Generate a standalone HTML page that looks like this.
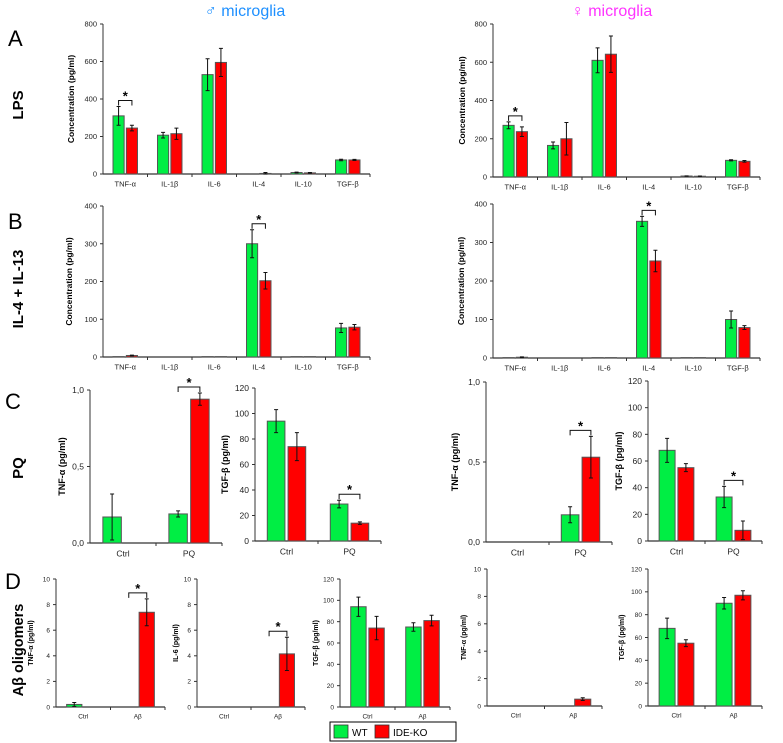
<!DOCTYPE html>
<html><head><meta charset="utf-8"><style>
body{margin:0;background:#fff;}
svg{display:block;font-family:"Liberation Sans",Arial,sans-serif;}
</style></head><body>
<svg id="fig" width="783" height="743" viewBox="0 0 783 743" xmlns="http://www.w3.org/2000/svg">
<text x="245" y="16" font-size="16" fill="#1e90ff" text-anchor="middle">♂ microglia</text>
<text x="612" y="16" font-size="16" fill="#ff33ff" text-anchor="middle">♀ microglia</text>
<text x="8" y="46" font-size="22">A</text>
<text x="8" y="229" font-size="22">B</text>
<text x="5" y="409" font-size="22">C</text>
<text x="5" y="589" font-size="22">D</text>
<text transform="translate(23,105) rotate(-90)" font-size="15" font-weight="bold" text-anchor="middle">LPS</text>
<text transform="translate(23,289) rotate(-90)" font-size="15" font-weight="bold" text-anchor="middle">IL-4 + IL-13</text>
<text transform="translate(23,468) rotate(-90)" font-size="15" font-weight="bold" text-anchor="middle">PQ</text>
<text transform="translate(23,650) rotate(-90)" font-size="14.5" font-weight="bold" text-anchor="middle">Aβ oligomers</text>
<g>
<rect x="330" y="722" width="126" height="19" fill="#fff" stroke="#000" stroke-width="1"/>
<rect x="334" y="725" width="14" height="13" fill="#00ee44" stroke="#333" stroke-width="0.8"/>
<text x="352" y="736" font-size="10">WT</text>
<rect x="375" y="725" width="14" height="13" fill="#ff0000" stroke="#333" stroke-width="0.8"/>
<text x="393" y="736" font-size="10">IDE-KO</text>
</g>
</svg>
<script>
// ---- data arrays ----
const cytokines = ["TNF-α","IL-1β","IL-6","IL-4","IL-10","TGF-β"];
const pqCats = ["Ctrl","PQ"];
const abCats = ["Ctrl","Aβ"];
const aMaleWT = [310,207,530,0,8,75];
const aMaleKO = [245,215,595,3,6,75];
const aMaleWTErr = [50,15,85,0,2,4];
const aMaleKOErr = [15,30,75,5,2,3];
const aFemWT = [270,165,610,0,5,87];
const aFemKO = [237,200,642,0,4,82];
const aFemWTErr = [18,18,65,0,1,3];
const aFemKOErr = [25,85,95,0,1,4];
const bMaleWT = [1,0,1,300,1,77];
const bMaleKO = [4,0,1,202,1,79];
const bMaleWTErr = [0,0,0,37,0,12];
const bMaleKOErr = [1,0,0,22,0,7];
const bFemWT = [1,0,1,355,1,100];
const bFemKO = [2,0,1,252,1,79];
const bFemWTErr = [0,0,0,13,0,22];
const bFemKOErr = [1,0,0,28,0,5];
const cMaleTnfWT = [0.17,0.19];
const cMaleTnfKO = [0,0.94];
const cMaleTnfWTErr = [0.15,0.02];
const cMaleTnfKOErr = [0,0.04];
const cMaleTgfWT = [94,29];
const cMaleTgfKO = [74,14];
const cMaleTgfWTErr = [9,3];
const cMaleTgfKOErr = [11,1];
const cFemTnfWT = [0,0.17];
const cFemTnfKO = [0,0.53];
const cFemTnfWTErr = [0,0.05];
const cFemTnfKOErr = [0,0.13];
const cFemTgfWT = [68,33];
const cFemTgfKO = [55,8];
const cFemTgfWTErr = [9,8];
const cFemTgfKOErr = [3,7];
const dMaleTnfWT = [0.2,0];
const dMaleTnfKO = [0,7.4];
const dMaleTnfWTErr = [0.15,0];
const dMaleTnfKOErr = [0,1.05];
const dMaleIl6WT = [0,0];
const dMaleIl6KO = [0,4.15];
const dMaleIl6WTErr = [0,0];
const dMaleIl6KOErr = [0,1.3];
const dMaleTgfWT = [94,75];
const dMaleTgfKO = [74,81];
const dMaleTgfWTErr = [9,4];
const dMaleTgfKOErr = [11,5];
const dFemTnfWT = [0,0];
const dFemTnfKO = [0,0.5];
const dFemTnfWTErr = [0,0];
const dFemTnfKOErr = [0,0.1];
const dFemTgfWT = [68,90];
const dFemTgfKO = [55,97];
const dFemTgfWTErr = [9,5];
const dFemTgfKOErr = [3,4];
const ticks800 = [0,200,400,600,800];
const ticks400 = [0,100,200,300,400];
const ticks120 = [0,20,40,60,80,100,120];
const ticks10 = [0,2,4,6,8,10];
const ticks1 = [0,0.5,1.0];
const ticks1Labels = ["0,0","0,5","1,0"];

const NS="http://www.w3.org/2000/svg";
const fig=document.getElementById('fig');
function mk(tag,attrs,parent){const e=document.createElementNS(NS,tag);for(const k in attrs)e.setAttribute(k,attrs[k]);parent.appendChild(e);return e;}

function chart(o){
  const g=mk('g',{},fig);
  
  
  const n=o.cats.length, W=(o.x1-o.x0)/n;
  const y=v=>o.y0-(v/o.max)*(o.y0-o.ytop);
  const x=i=>o.x0+W*i;
  const ya=mk('line',{x1:o.x0,y1:o.ytop,x2:o.x0,y2:o.y0,stroke:'#333','stroke-width':1},g);
  
  
  const xa=mk('line',{x1:o.x0,y1:o.y0,x2:o.x1,y2:o.y0,stroke:'#333','stroke-width':1.3},g);
  
  
  o.ticks.forEach((t,i)=>{
    mk('line',{x1:o.x0-3,y1:y(t),x2:o.x0,y2:y(t),stroke:'#333'},g);
    const tl=mk('text',{x:o.x0-6,y:y(t)+o.fs*0.35,'font-size':o.fs,'text-anchor':'end',fill:'#222'},g);
    tl.textContent=o.tickLabels?o.tickLabels[i]:t;
    
    
  });
  for(let i=1;i<=n;i++) mk('line',{x1:x(i),y1:o.y0,x2:x(i),y2:o.y0+3,stroke:'#333'},g);
  const tt=mk('text',{transform:`translate(${o.x0-o.toff},${(o.ytop+o.y0)/2}) rotate(-90)`,'font-size':o.tfs,'font-weight':'bold','text-anchor':'middle'},g);
  tt.textContent=o.title;
  
  
  const bw=W*o.bwf, gap=W*0.05;
  o.cats.forEach((c,i)=>{
    const cx=x(i)+W/2;
    const cl=mk('text',{x:cx,y:o.y0+o.fs+5,'font-size':o.fs,'text-anchor':'middle',fill:'#222'},g);
    cl.textContent=c;
    
    
    [[o.wt,o.wtErr,'#00ee44',cx-gap/2-bw,'bar-wt'],[o.ko,o.koErr,'#ff0000',cx+gap/2,'bar-ide-ko']].forEach(([vals,errs,col,bx,nm])=>{
      const v=vals[i], e=errs[i];
      if(v>0){
        const h=o.y0-y(v);
        const r=mk('rect',{x:bx,y:y(v),width:bw,height:h,fill:col,stroke:'#555','stroke-width':1},g);
        
        
      }
      if(e>0){
        const ex=bx+bw/2;
        const el=mk('path',{d:`M${ex},${y(v+e)}V${y(Math.max(0,v-e))}M${ex-2},${y(v+e)}h4M${ex-2},${y(Math.max(0,v-e))}h4`,stroke:'#111','stroke-width':1,fill:'none'},g);
        
        
      }
    });
    if(o.sig===i){
      const top=Math.min(y(o.wt[i]+o.wtErr[i]),y(o.ko[i]+o.koErr[i]))-6;
      const l=cx-gap/2-bw/2, r2=cx+gap/2+bw/2;
      const br=mk('path',{d:`M${l},${top+5}V${top}H${r2}V${top+5}`,stroke:'#111','stroke-width':1,fill:'none'},g);
      
      
      const st=mk('text',{x:cx,y:top,'font-size':13,'font-weight':'bold','text-anchor':'middle'},g);
      st.textContent='*';
      
      
    }
  });
}
chart({name:'chart-a-male-lps',cats:cytokines,wt:aMaleWT,ko:aMaleKO,wtErr:aMaleWTErr,koErr:aMaleKOErr,x0:103,x1:370,ytop:24,y0:174,max:800,ticks:ticks800,fs:7.5,tfs:8.5,toff:29,title:'Concentration (pg/ml)',bwf:0.25,sig:0});
chart({name:'chart-a-female-lps',cats:cytokines,wt:aFemWT,ko:aFemKO,wtErr:aFemWTErr,koErr:aFemKOErr,x0:493,x1:760,ytop:24,y0:177,max:800,ticks:ticks800,fs:7.5,tfs:8.5,toff:28,title:'Concentration (pg/ml)',bwf:0.25,sig:0});
chart({name:'chart-b-male-il4',cats:cytokines,wt:bMaleWT,ko:bMaleKO,wtErr:bMaleWTErr,koErr:bMaleKOErr,x0:103,x1:370,ytop:206,y0:357,max:400,ticks:ticks400,fs:7.5,tfs:8.5,toff:31,title:'Concentration (pg/ml)',bwf:0.25,sig:3});
chart({name:'chart-b-female-il4',cats:cytokines,wt:bFemWT,ko:bFemKO,wtErr:bFemWTErr,koErr:bFemKOErr,x0:493,x1:760,ytop:204,y0:358,max:400,ticks:ticks400,fs:7.5,tfs:8.5,toff:29,title:'Concentration (pg/ml)',bwf:0.25,sig:3});
chart({name:'chart-c-male-tnf',cats:pqCats,wt:cMaleTnfWT,ko:cMaleTnfKO,wtErr:cMaleTnfWTErr,koErr:cMaleTnfKOErr,x0:90,x1:222,ytop:390,y0:543,max:1,ticks:ticks1,tickLabels:ticks1Labels,fs:8.5,tfs:9,toff:25,title:'TNF-α (pg/ml)',bwf:0.28,sig:1});
chart({name:'chart-c-male-tgf',cats:pqCats,wt:cMaleTgfWT,ko:cMaleTgfKO,wtErr:cMaleTgfWTErr,koErr:cMaleTgfKOErr,x0:255,x1:381,ytop:388,y0:541,max:120,ticks:ticks120,fs:8.5,tfs:9,toff:27,title:'TGF-β (pg/ml)',bwf:0.28,sig:1});
chart({name:'chart-c-female-tnf',cats:pqCats,wt:cFemTnfWT,ko:cFemTnfKO,wtErr:cFemTnfWTErr,koErr:cFemTnfKOErr,x0:486,x1:612,ytop:382,y0:542,max:1,ticks:ticks1,tickLabels:ticks1Labels,fs:8.5,tfs:9,toff:28,title:'TNF-α (pg/ml)',bwf:0.28,sig:1});
chart({name:'chart-c-female-tgf',cats:pqCats,wt:cFemTgfWT,ko:cFemTgfKO,wtErr:cFemTgfWTErr,koErr:cFemTgfKOErr,x0:648,x1:762,ytop:381,y0:541,max:120,ticks:ticks120,fs:8.5,tfs:9,toff:26,title:'TGF-β (pg/ml)',bwf:0.28,sig:1});
chart({name:'chart-d-male-tnf',cats:abCats,wt:dMaleTnfWT,ko:dMaleTnfKO,wtErr:dMaleTnfWTErr,koErr:dMaleTnfKOErr,x0:56,x1:165,ytop:579,y0:707,max:10,ticks:ticks10,fs:6.5,tfs:7,toff:23,title:'TNF-α (pg/ml)',bwf:0.28,sig:1});
chart({name:'chart-d-male-il6',cats:abCats,wt:dMaleIl6WT,ko:dMaleIl6KO,wtErr:dMaleIl6WTErr,koErr:dMaleIl6KOErr,x0:197,x1:305,ytop:579,y0:707,max:10,ticks:ticks10,fs:6.5,tfs:7,toff:19,title:'IL-6 (pg/ml)',bwf:0.28,sig:1});
chart({name:'chart-d-male-tgf',cats:abCats,wt:dMaleTgfWT,ko:dMaleTgfKO,wtErr:dMaleTgfWTErr,koErr:dMaleTgfKOErr,x0:340,x1:450,ytop:579,y0:707,max:120,ticks:ticks120,fs:6.5,tfs:7,toff:22,title:'TGF-β (pg/ml)',bwf:0.28,sig:-1});
chart({name:'chart-d-female-tnf',cats:abCats,wt:dFemTnfWT,ko:dFemTnfKO,wtErr:dFemTnfWTErr,koErr:dFemTnfKOErr,x0:487,x1:602,ytop:569,y0:706,max:10,ticks:ticks10,fs:6.5,tfs:7,toff:21,title:'TNF-α (pg/ml)',bwf:0.28,sig:-1});
chart({name:'chart-d-female-tgf',cats:abCats,wt:dFemTgfWT,ko:dFemTgfKO,wtErr:dFemTgfWTErr,koErr:dFemTgfKOErr,x0:648,x1:762,ytop:569,y0:706,max:120,ticks:ticks120,fs:6.5,tfs:7,toff:24,title:'TGF-β (pg/ml)',bwf:0.28,sig:-1});
</script>
</body></html>
